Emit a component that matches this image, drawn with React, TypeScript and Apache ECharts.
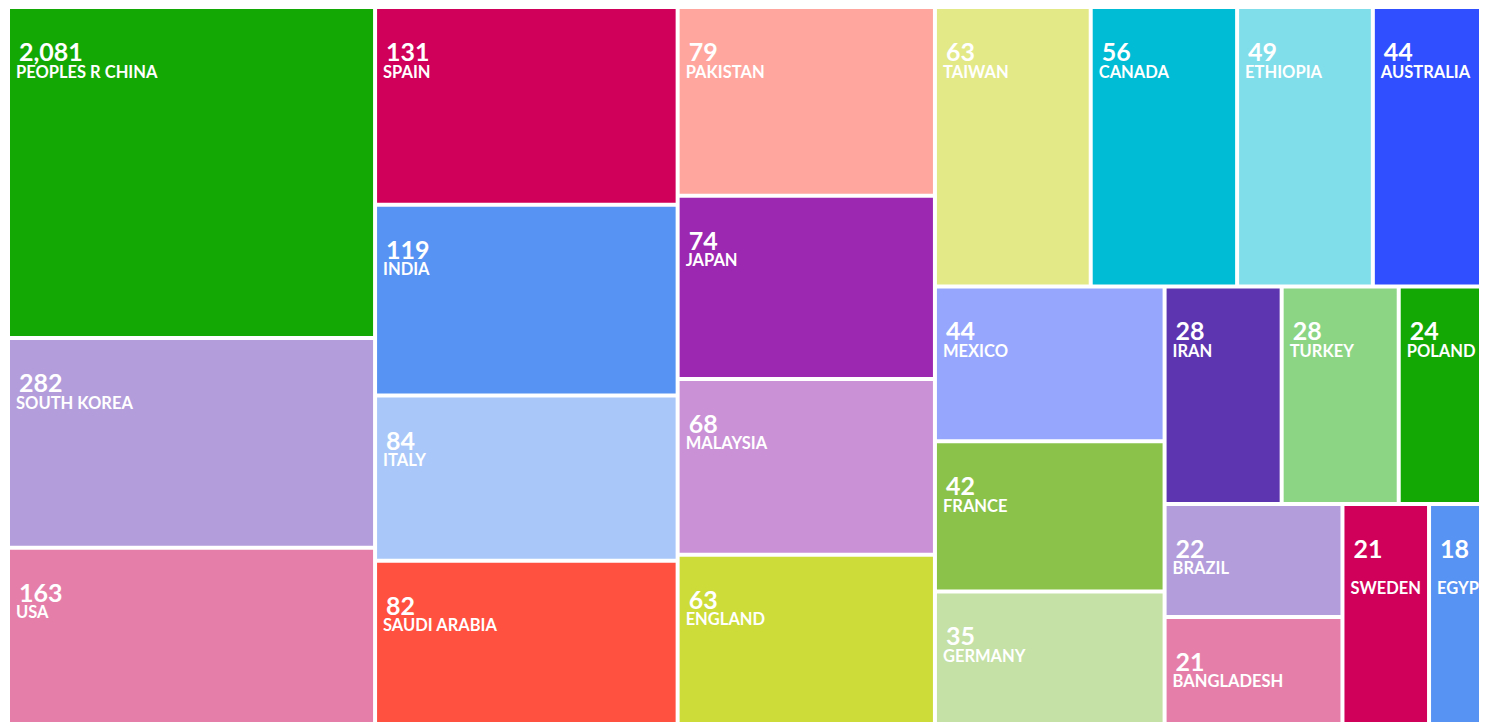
import React, { useEffect, useRef } from "react";
import * as echarts from "echarts";

// Country scientific production (number of articles)
const countries: string[] = [
  "PEOPLES R CHINA", "SOUTH KOREA", "USA", "SPAIN", "INDIA", "ITALY", "SAUDI ARABIA",
  "PAKISTAN", "JAPAN", "MALAYSIA", "ENGLAND", "TAIWAN", "CANADA", "ETHIOPIA",
  "AUSTRALIA", "MEXICO", "FRANCE", "GERMANY", "IRAN", "TURKEY", "POLAND",
  "BRAZIL", "BANGLADESH", "SWEDEN", "EGYPT",
];
const articles: number[] = [
  2081, 282, 163, 131, 119, 84, 82,
  79, 74, 68, 63, 63, 56, 49,
  44, 44, 42, 35, 28, 28, 24,
  22, 21, 21, 18,
];
const palette: string[] = [
  "#14A804", "#B39DDB", "#E57FAA", "#D0005A", "#5793F3",
  "#A9C8F9", "#FF5040", "#FFA69E", "#9C27B0", "#CA91D6",
  "#CDDC39", "#E3E987", "#00BCD4", "#80DEEA", "#304FFE",
  "#96A6FD", "#8BC34A", "#C5E1A5", "#5E35B1", "#8CD585",
];

// cell area follows a logarithmic size scale: ln(n) - offset
const SIZE_LOG_OFFSET = 2.19;
const FONT = "Lato, 'Open Sans', sans-serif";
const TALL_LABEL = new Set(["SWEDEN", "EGYPT"]);

export default function App() {
  const ref = useRef<HTMLDivElement>(null);
  useEffect(() => {
    if (!ref.current) return;
    const chart = echarts.init(ref.current, null, { renderer: "svg" });
    const countOf = new Map<string, number>();
    countries.forEach((c, i) => countOf.set(c, articles[i]));
    const data = countries.map((name, i) => ({
      name,
      value: Math.log(articles[i]) - SIZE_LOG_OFFSET,
      itemStyle: { color: palette[i % palette.length] },
    }));
    chart.setOption({
      animation: false,
      tooltip: { show: false },
      series: [
        {
          type: "treemap",
          left: 2,
          top: 1,
          width: 1488,
          height: 713,
          sort: false,
          roam: false,
          nodeClick: false,
          breadcrumb: { show: false },
          itemStyle: { borderWidth: 0, gapWidth: 4, borderColor: "#ffffff" },
          upperLabel: { show: false },
          label: {
            show: true,
            position: [1, 25],
            align: "left",
            verticalAlign: "top",
            fontFamily: FONT,
            formatter: (p: any) => {
              const n = countOf.get(p.name) ?? 0;
              const v = n.toLocaleString("en-US");
              return TALL_LABEL.has(p.name)
                ? `{v|${v}}\n{g| }\n{n|${p.name}}`
                : `{v|${v}}\n{n|${p.name}}`;
            },
            rich: {
              v: {
                fontFamily: FONT,
                fontSize: 25,
                fontWeight: 700,
                lineHeight: 24,
                color: "#ffffff",
                padding: [0, 0, 0, 3],
              },
              n: {
                fontFamily: FONT,
                fontSize: 16.5,
                fontWeight: 700,
                lineHeight: 17,
                color: "#ffffff",
              },
              g: { fontSize: 2, lineHeight: 20 },
            },
          },
          emphasis: { disabled: true },
          data,
        },
      ],
    });
    return () => chart.dispose();
  }, []);
  return (
    <div style={{ width: 1472, height: 715, overflow: "hidden" }}>
      <div ref={ref} style={{ width: 1496, height: 715 }} />
    </div>
  );
}
